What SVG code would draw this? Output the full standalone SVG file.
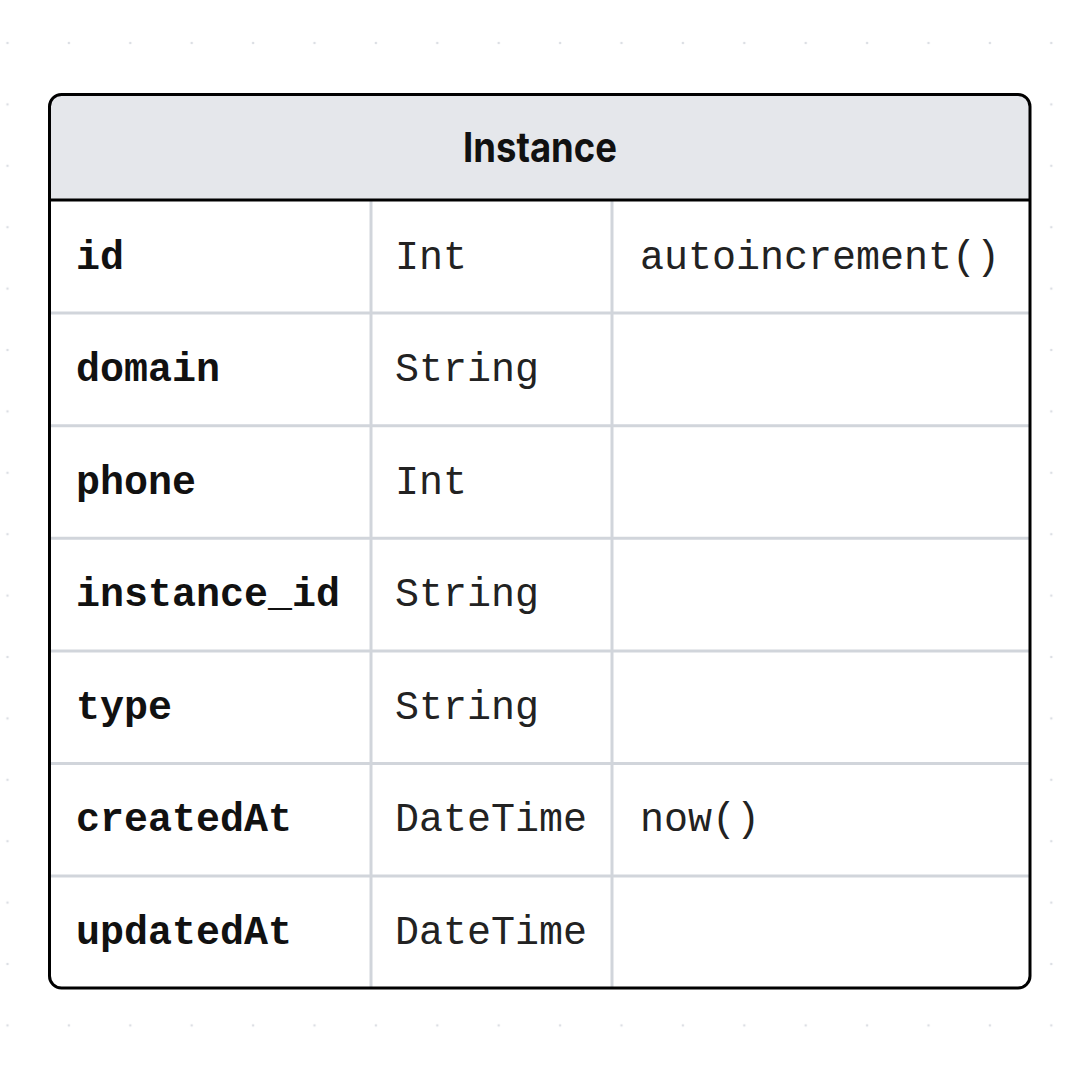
<svg xmlns="http://www.w3.org/2000/svg" width="1080" height="1080" viewBox="0 0 1080 1080">
  <defs>
    <pattern id="dots" patternUnits="userSpaceOnUse" x="-23.2" y="12.3" width="61.4" height="61.4">
      <circle cx="30.7" cy="30.7" r="1.3" fill="#dcdfe4"/>
    </pattern>
    <style>
      .name { font-family: "Liberation Mono", "DejaVu Sans Mono", monospace; font-size: 40px; font-weight: bold; fill: #111; }
      .val { font-family: "Liberation Mono", "DejaVu Sans Mono", monospace; font-size: 40px; fill: #222; }
      .title { font-family: Inter, "Liberation Sans", sans-serif; font-size: 41px; font-weight: bold; fill: #111; }
      .row { stroke: #d1d5db; stroke-width: 3; fill: none; }
    </style>
  </defs>
  <rect width="1080" height="1080" fill="#ffffff"/>
  <rect width="1080" height="1080" fill="url(#dots)"/>
  <g id="instance">
    <rect x="49.5" y="94.5" width="980.5" height="893.5" rx="12" fill="#ffffff"/>
    <path d="M49.5,200 V106.5 A12,12 0 0 1 61.5,94.5 H1018 A12,12 0 0 1 1030,106.5 V200 Z" fill="#e5e7eb"/>
    <text class="title" x="540" y="162" text-anchor="middle" textLength="154" lengthAdjust="spacingAndGlyphs">Instance</text>
    <g class="grid">
      <line class="row" x1="49.5" y1="313.1" x2="1030" y2="313.1"/>
      <line class="row" x1="49.5" y1="425.7" x2="1030" y2="425.7"/>
      <line class="row" x1="49.5" y1="538.3" x2="1030" y2="538.3"/>
      <line class="row" x1="49.5" y1="650.9" x2="1030" y2="650.9"/>
      <line class="row" x1="49.5" y1="763.4" x2="1030" y2="763.4"/>
      <line class="row" x1="49.5" y1="876" x2="1030" y2="876"/>
      <line class="row" x1="371" y1="200" x2="371" y2="988"/>
      <line class="row" x1="612" y1="200" x2="612" y2="988"/>
    </g>
    <line x1="49.5" y1="200" x2="1030" y2="200" stroke="#000" stroke-width="3"/>
    <rect x="49.5" y="94.5" width="980.5" height="893.5" rx="12" fill="none" stroke="#000" stroke-width="3"/>
    <g id="row-id">
      <text class="name" x="76" y="268.5">id</text>
      <text class="val" x="395" y="268.5">Int</text>
      <text class="val" x="640" y="268.5">autoincrement()</text>
    </g>
    <g id="row-domain">
      <text class="name" x="76" y="381.1">domain</text>
      <text class="val" x="395" y="381.1">String</text>
    </g>
    <g id="row-phone">
      <text class="name" x="76" y="493.7">phone</text>
      <text class="val" x="395" y="493.7">Int</text>
    </g>
    <g id="row-instance_id">
      <text class="name" x="76" y="606.3">instance_id</text>
      <text class="val" x="395" y="606.3">String</text>
    </g>
    <g id="row-type">
      <text class="name" x="76" y="718.9">type</text>
      <text class="val" x="395" y="718.9">String</text>
    </g>
    <g id="row-createdAt">
      <text class="name" x="76" y="831.4">createdAt</text>
      <text class="val" x="395" y="831.4">DateTime</text>
      <text class="val" x="640" y="831.4">now()</text>
    </g>
    <g id="row-updatedAt">
      <text class="name" x="76" y="944">updatedAt</text>
      <text class="val" x="395" y="944">DateTime</text>
    </g>
  </g>
  <g id="connectors"/>
</svg>
